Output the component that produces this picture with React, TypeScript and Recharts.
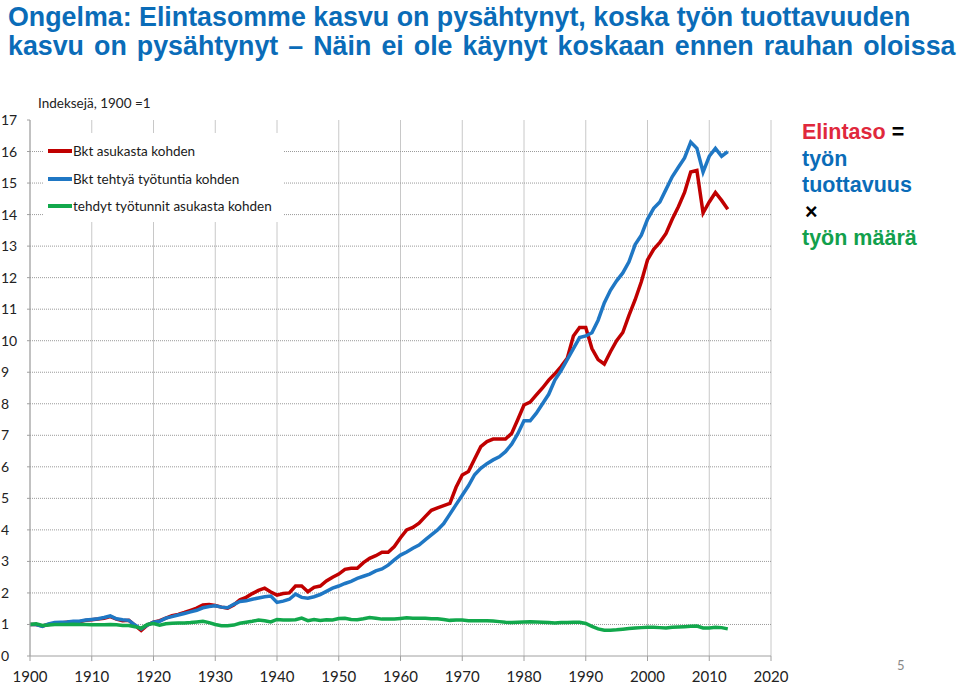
import React from "react";
import {
  LineChart,
  Line,
  XAxis,
  YAxis,
  CartesianGrid,
  Legend,
} from "recharts";

// ── Data (index values, 1900 = 1) ────────────────────────────────────────────

const firstYear = 1900;

// Bkt asukasta kohden
const gdpPerCapita = [
  1.0, 1.0, 0.95, 1.0, 1.03, 1.05, 1.07, 1.09, 1.09, 1.13,
  1.15, 1.17, 1.2, 1.25, 1.17, 1.12, 1.13, 0.97, 0.81, 0.98,
  1.07, 1.12, 1.2, 1.28, 1.32, 1.38, 1.45, 1.52, 1.62, 1.63,
  1.6, 1.55, 1.52, 1.62, 1.78, 1.86, 1.98, 2.08, 2.15, 2.03,
  1.93, 1.98, 2.0, 2.22, 2.22, 2.04, 2.18, 2.22, 2.38, 2.5,
  2.6, 2.75, 2.78, 2.78, 2.96, 3.1, 3.18, 3.29, 3.29, 3.47,
  3.75, 4.0, 4.08, 4.21, 4.42, 4.62, 4.7, 4.77, 4.84, 5.35,
  5.74, 5.85, 6.25, 6.64, 6.8, 6.88, 6.88, 6.88, 7.06, 7.5,
  7.96, 8.05, 8.28, 8.5, 8.75, 8.95, 9.18, 9.44, 10.15, 10.42,
  10.42, 9.75, 9.4, 9.26, 9.65, 10.0, 10.26, 10.8, 11.3, 11.87,
  12.56, 12.9, 13.12, 13.4, 13.85, 14.25, 14.7, 15.35, 15.4, 14.05,
  14.4, 14.7, 14.45, 14.17,
];

// Bkt tehtyä työtuntia kohden
const gdpPerHour = [
  1.0, 1.0, 0.94, 1.02, 1.06, 1.07, 1.08, 1.1, 1.1, 1.14,
  1.16, 1.18, 1.22, 1.27, 1.18, 1.15, 1.13, 0.98, 0.86, 0.98,
  1.07, 1.1, 1.2, 1.25, 1.3, 1.35, 1.4, 1.45, 1.53, 1.57,
  1.59, 1.55, 1.53, 1.64, 1.73, 1.75, 1.8, 1.84, 1.88, 1.9,
  1.7, 1.74, 1.8, 1.96, 1.86, 1.83, 1.88, 1.95, 2.05, 2.15,
  2.22, 2.3, 2.37, 2.46, 2.53, 2.6, 2.7, 2.76, 2.88, 3.05,
  3.2, 3.3, 3.42, 3.52, 3.68, 3.84, 4.0, 4.2, 4.5, 4.8,
  5.1, 5.4, 5.75, 5.95, 6.1, 6.22, 6.32, 6.48, 6.72, 7.05,
  7.46, 7.46, 7.7, 8.0, 8.3, 8.75, 9.05, 9.4, 9.75, 10.1,
  10.15, 10.25, 10.65, 11.2, 11.6, 11.9, 12.15, 12.5, 13.05, 13.35,
  13.85, 14.2, 14.4, 14.8, 15.2, 15.5, 15.8, 16.3, 16.1, 15.35,
  15.85, 16.1, 15.85, 16.0,
];

// tehdyt työtunnit asukasta kohden
const hoursPerCapita = [
  1.0, 1.02, 0.97, 0.98, 1.0, 1.0, 1.0, 1.01, 1.0, 1.0,
  0.99, 0.99, 0.99, 1.0, 0.99, 0.97, 0.97, 0.93, 0.88, 1.0,
  1.03, 0.98, 1.02, 1.04, 1.05, 1.05, 1.06, 1.08, 1.1, 1.06,
  1.0, 0.96, 0.96, 0.98, 1.04, 1.07, 1.1, 1.14, 1.12, 1.08,
  1.16, 1.14, 1.14, 1.15, 1.2, 1.12, 1.16, 1.13, 1.15, 1.14,
  1.19, 1.2, 1.16, 1.15, 1.18, 1.22, 1.2, 1.17, 1.17, 1.17,
  1.19, 1.21, 1.2, 1.2, 1.2, 1.18, 1.18, 1.16, 1.13, 1.14,
  1.14, 1.12, 1.12, 1.12, 1.12, 1.11, 1.09, 1.07, 1.06, 1.07,
  1.08, 1.09, 1.08, 1.07, 1.06, 1.05, 1.06, 1.06, 1.07, 1.07,
  1.03, 0.94, 0.86, 0.82, 0.82, 0.83, 0.85, 0.87, 0.89, 0.9,
  0.91, 0.91, 0.9, 0.89, 0.91, 0.92, 0.93, 0.94, 0.95, 0.89,
  0.89, 0.91, 0.9, 0.86,
];

const xTicks = [1900, 1910, 1920, 1930, 1940, 1950, 1960, 1970, 1980, 1990, 2000, 2010, 2020];
const yTicks = [0, 1, 2, 3, 4, 5, 6, 7, 8, 9, 10, 11, 12, 13, 14, 15, 16, 17];
// dotted horizontal grid: no line along the top edge
const yGridValues = [1, 2, 3, 4, 5, 6, 7, 8, 9, 10, 11, 12, 13, 14, 15, 16];

const seriesNames = [
  "Bkt asukasta kohden",
  "Bkt tehtyä työtuntia kohden",
  "tehdyt työtunnit asukasta kohden",
];
const seriesColors = ["#c00000", "#1f77c4", "#12a84c"];

const data = gdpPerCapita.map((v, i) => ({
  year: firstYear + i,
  red: v,
  blue: gdpPerHour[i],
  green: hoursPerCapita[i],
}));

// ── Pieces ──────────────────────────────────────────────────────────────────

const tickFont = "Lato, 'Open Sans', sans-serif";

function YTick({ y, payload }: { y?: number; payload?: { value: number } }) {
  return (
    <text x={1} y={y} dy={5} textAnchor="start" fill="#222" fontSize={14} fontFamily={tickFont}>
      {payload?.value}
    </text>
  );
}

function LegendBox() {
  return (
    <div style={{ background: "#fff", width: 240, height: 89, position: "relative", fontFamily: tickFont }}>
      {seriesNames.map((name, i) => (
        <div
          key={name}
          style={{
            position: "absolute",
            left: 5,
            top: 8 + i * 27.5,
            height: 20,
            display: "flex",
            alignItems: "center",
            fontSize: 13.5,
            color: "#1a1a1a",
            whiteSpace: "nowrap",
          }}
        >
          <span style={{ display: "inline-block", width: 24, height: 4, background: seriesColors[i], marginRight: 1 }} />
          {name}
        </div>
      ))}
    </div>
  );
}

// ── Component ───────────────────────────────────────────────────────────────

export default function App() {
  return (
    <div style={{ position: "absolute", left: 0, top: 0, width: 960, height: 686, background: "#fff", overflow: "hidden" }}>
      <div
        style={{
          position: "absolute",
          left: 8,
          top: 3,
          fontFamily: "'Liberation Sans', Arial, sans-serif",
          fontWeight: 700,
          fontSize: 26.8,
          lineHeight: "29px",
          color: "#0a6cb8",
          whiteSpace: "nowrap",
        }}
      >
        <div>Ongelma: Elintasomme kasvu on pysähtynyt, koska työn tuottavuuden</div>
        <div style={{ wordSpacing: 2.6 }}>kasvu on pysähtynyt – Näin ei ole käynyt koskaan ennen rauhan oloissa</div>
      </div>

      <div style={{ position: "absolute", left: 38, top: 95, fontFamily: tickFont, fontSize: 13.5, color: "#222" }}>
        Indeksejä, 1900 =1
      </div>

      <LineChart
        width={960}
        height={686}
        data={data}
        margin={{ top: 120, right: 189, bottom: 0, left: 0 }}
      >
        <CartesianGrid horizontal={false} vertical stroke="#c8c8c8" />
        <CartesianGrid
          horizontal
          vertical={false}
          horizontalValues={yGridValues}
          stroke="#9a9a9a"
          strokeDasharray="1 1"
        />
        <XAxis
          dataKey="year"
          type="number"
          domain={[1900, 2020]}
          ticks={xTicks}
          height={30}
          stroke="#a0a0a0"
          tickSize={5}
          tickMargin={10}
          tick={{ fill: "#222", fontSize: 15, fontFamily: tickFont }}
        />
        <YAxis
          domain={[0, 17]}
          ticks={yTicks}
          width={30}
          stroke="#a0a0a0"
          tickSize={3}
          tick={<YTick />}
          interval={0}
        />
        <Legend
          layout="horizontal"
          verticalAlign="middle"
          align="center"
          content={<LegendBox />}
          wrapperStyle={{ position: "absolute", left: 43, top: 133, width: 240, height: 89 }}
        />
        <Line
          type="linear"
          dataKey="red"
          name={seriesNames[0]}
          stroke={seriesColors[0]}
          strokeWidth={3.5}
          dot={false}
          isAnimationActive={false}
        />
        <Line
          type="linear"
          dataKey="blue"
          name={seriesNames[1]}
          stroke={seriesColors[1]}
          strokeWidth={3.5}
          dot={false}
          isAnimationActive={false}
        />
        <Line
          type="linear"
          dataKey="green"
          name={seriesNames[2]}
          stroke={seriesColors[2]}
          strokeWidth={3.5}
          dot={false}
          isAnimationActive={false}
        />
      </LineChart>

      <div
        style={{
          position: "absolute",
          left: 802,
          top: 119,
          fontFamily: "'Liberation Sans', Arial, sans-serif",
          fontWeight: 700,
          fontSize: 21.5,
          lineHeight: "26.5px",
          whiteSpace: "nowrap",
        }}
      >
        <div>
          <span style={{ color: "#e0283c" }}>Elintaso</span> <span style={{ color: "#000" }}>=</span>
        </div>
        <div style={{ color: "#0a6cb8" }}>työn</div>
        <div style={{ color: "#0a6cb8" }}>tuottavuus</div>
        <div style={{ color: "#000", paddingLeft: 3 }}>×</div>
        <div style={{ color: "#12a04c" }}>työn määrä</div>
      </div>

      <div style={{ position: "absolute", left: 897, top: 657, fontFamily: tickFont, fontSize: 13, color: "#888" }}>5</div>
    </div>
  );
}
